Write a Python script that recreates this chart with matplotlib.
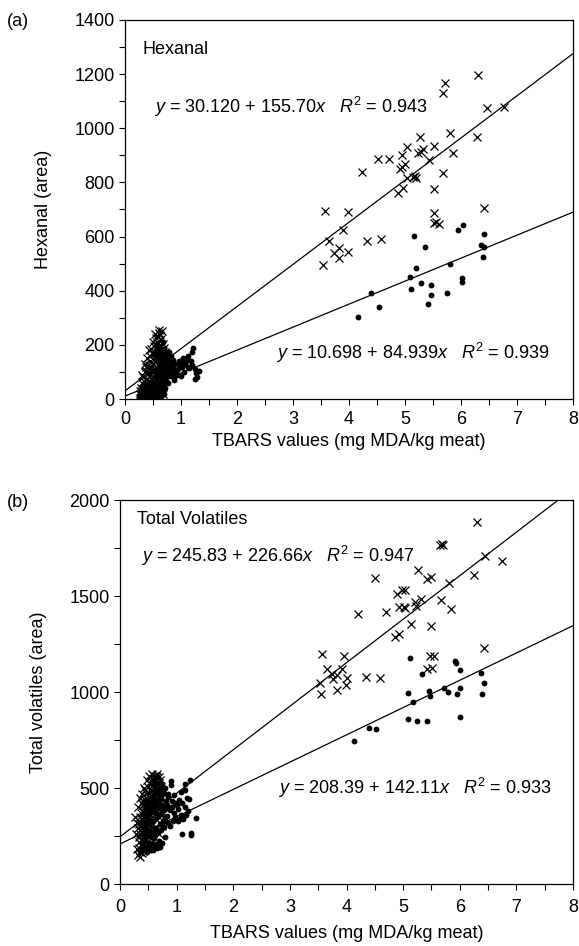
import numpy as np
import matplotlib
matplotlib.use("Agg")
import matplotlib.pyplot as plt
from matplotlib.ticker import MultipleLocator

plt.rcParams['font.family'] = ['Liberation Sans', 'DejaVu Sans']
plt.rcParams['mathtext.fontset'] = 'custom'
plt.rcParams['mathtext.rm'] = 'Liberation Sans'
plt.rcParams['mathtext.it'] = 'Liberation Sans:italic'

FS = 13

# ---- (a) hexanal vs TBARS ----
# crosses: high-TBARS group
hex_x_hi = [3.54, 3.58, 3.65, 3.74, 3.82, 3.83, 3.89, 3.98, 3.99, 4.23, 4.33, 4.51, 4.58, 4.71,
            4.87, 4.91, 4.94, 4.94, 4.96, 5.00, 5.03, 5.03, 5.15, 5.17, 5.19, 5.23, 5.26, 5.28,
            5.33, 5.43, 5.52, 5.52, 5.52, 5.52, 5.56, 5.60, 5.67, 5.71, 5.67, 5.81, 5.86, 6.29,
            6.31, 6.41, 6.47, 6.77]
hex_y_hi = [495, 696, 585, 538, 557, 520, 623, 691, 542, 837, 585, 885, 590, 885,
            762, 848, 901, 858, 778, 868, 815, 930, 819, 822, 816, 908, 969, 914,
            922, 883, 935, 775, 686, 650, 654, 648, 836, 1166, 1129, 981, 907, 969,
            1197, 704, 1074, 1080]
# crosses: low-TBARS group
hex_x_lo = [0.60, 0.66, 0.63, 0.43, 0.55, 0.58, 0.62, 0.70, 0.52, 0.48, 0.57, 0.65, 0.72, 0.40,
            0.45, 0.53, 0.60, 0.68, 0.75, 0.38, 0.47, 0.55, 0.63, 0.70, 0.35, 0.42, 0.50, 0.58,
            0.66, 0.33, 0.40, 0.48, 0.56, 0.62, 0.30, 0.37, 0.45, 0.52, 0.60, 0.28, 0.35, 0.42,
            0.50, 0.57, 0.65, 0.27, 0.33, 0.40, 0.47, 0.55, 0.62, 0.30, 0.38, 0.45, 0.52, 0.58,
            0.68, 0.72, 0.78, 0.50, 0.44, 0.59, 0.64, 0.54, 0.36, 0.31,
            0.50, 0.56, 0.61, 0.66, 0.70, 0.46, 0.51, 0.54, 0.59, 0.64, 0.69, 0.74, 0.43, 0.48,
            0.53, 0.61, 0.67, 0.73, 0.80, 0.38, 0.45, 0.52, 0.59, 0.64, 0.70, 0.34, 0.41, 0.49,
            0.55, 0.63, 0.26, 0.31, 0.38, 0.46, 0.53, 0.61, 0.67, 0.44, 0.36, 0.58, 0.57, 0.61,
            0.67, 0.71, 0.76]
hex_y_lo = [255, 250, 238, 180, 225, 210, 200, 190, 195, 170, 175, 170, 160, 150,
            140, 150, 145, 140, 135, 120, 115, 120, 118, 110, 100, 95, 98, 92,
            88, 80, 75, 70, 72, 65, 60, 55, 50, 48, 45, 40, 35, 30,
            28, 25, 30, 20, 15, 12, 10, 8, 12, 5, 3, 4, 2, 6,
            50, 80, 105, 130, 160, 185, 220, 240, 130, 90,
            210, 190, 175, 160, 150, 185, 165, 140, 130, 125, 120, 115, 125, 105,
            110, 100, 95, 95, 100, 105, 85, 85, 80, 75, 70, 65, 62, 58,
            60, 55, 30, 25, 40, 42, 38, 30, 20, 20, 18, 15, 232, 245,
            205, 175, 150]
# dots: high-TBARS group
hex_dx_hi = [5.16, 5.35, 5.94, 6.03, 6.41, 6.35, 6.41, 6.39, 5.81, 5.19, 5.09, 5.28, 5.10, 5.46,
             5.47, 5.75, 5.41, 6.02, 6.01, 4.39, 4.53, 4.16]
hex_dy_hi = [603, 560, 624, 644, 608, 569, 563, 526, 499, 483, 452, 427, 405, 421,
             385, 390, 352, 446, 433, 393, 339, 304]
# dots: low-TBARS group
hex_dx_lo = [0.25, 0.30, 0.35, 0.40, 0.45, 0.50, 0.55, 0.60, 0.65, 0.70, 0.28, 0.33, 0.38, 0.43,
             0.48, 0.53, 0.58, 0.63, 0.68, 0.30, 0.36, 0.42, 0.47, 0.52, 0.57, 0.62, 0.67, 0.72,
             0.55, 0.60, 0.65, 0.70, 0.75, 0.80, 0.85, 0.88, 0.90, 0.95, 0.98, 1.02, 1.05, 1.07,
             1.09, 1.11, 1.13, 1.15, 1.19, 1.19, 1.22, 1.25, 1.25, 1.27, 1.28, 1.32, 0.78, 0.82,
             0.72, 0.66, 0.62, 0.58, 0.68, 0.74, 0.87, 0.93, 1.00, 0.84, 0.76, 0.70, 0.64, 0.56,
             0.27, 0.32, 0.37, 0.42, 0.47, 0.52, 0.57, 0.62, 0.67, 0.72, 0.29, 0.34, 0.39, 0.44,
             0.50, 0.55, 0.60, 0.65, 0.71, 0.77, 0.81, 0.86, 0.91, 0.96, 1.01, 1.04, 1.12, 1.17,
             0.74, 0.69, 0.79, 0.85, 0.62, 0.58, 0.66, 0.60, 0.55, 0.64, 0.76, 0.82]
hex_dy_lo = [10, 5, 8, 3, 6, 2, 9, 4, 12, 20, 25, 30, 22, 28,
             35, 26, 32, 40, 45, 45, 50, 55, 48, 58, 52, 62, 70, 75,
             85, 100, 110, 120, 100, 115, 95, 70, 130, 110, 125, 140, 100, 130,
             140, 150, 160, 115, 125, 175, 190, 110, 75, 95, 80, 105, 140, 160,
             150, 175, 190, 205, 210, 130, 80, 90, 85, 120, 85, 60, 140, 160,
             5, 15, 12, 15, 18, 12, 20, 25, 30, 40, 35, 40, 35, 42,
             45, 40, 50, 55, 90, 95, 130, 110, 100, 140, 120, 150, 120, 140,
             165, 185, 175, 145, 160, 175, 125, 120, 105, 90, 60, 85]

# ---- (b) total volatiles vs TBARS ----
tv_x_hi = [6.74, 5.26, 4.51, 5.42, 5.49, 6.26, 5.81, 4.90, 4.98, 5.04, 4.21, 4.70, 4.92, 5.01,
           5.04, 5.23, 5.31, 5.21, 5.67, 5.84, 5.14, 5.49, 4.86, 4.92, 3.57, 3.95, 3.66, 3.92,
           3.53, 3.76, 3.83, 3.74, 3.55, 3.83, 4.00, 3.99, 4.35, 4.59, 5.48, 5.54, 5.42, 5.51,
           6.42, 6.30, 5.66, 5.68, 5.70, 6.45]
tv_y_hi = [1680, 1633, 1594, 1586, 1598, 1610, 1568, 1511, 1529, 1529, 1406, 1418, 1444, 1441,
           1436, 1449, 1484, 1467, 1479, 1432, 1354, 1345, 1284, 1302, 1197, 1188, 1119, 1119,
           1049, 1066, 1087, 1092, 988, 1009, 1075, 1035, 1080, 1072, 1188, 1188, 1119, 1127,
           1227, 1885, 1767, 1770, 1765, 1708]
tv_x_lo = [0.32, 0.35, 0.30, 0.38, 0.33, 0.41, 0.36, 0.44, 0.31, 0.39, 0.47, 0.34, 0.42, 0.50,
           0.37, 0.45, 0.53, 0.40, 0.48, 0.56, 0.43, 0.51, 0.59, 0.46, 0.54, 0.62, 0.50, 0.58,
           0.65, 0.55, 0.62, 0.68, 0.60, 0.65, 0.70, 0.72, 0.75, 0.66, 0.70, 0.62, 0.58, 0.64,
           0.55, 0.60, 0.52, 0.48, 0.45, 0.40, 0.36, 0.28, 0.27, 0.32, 0.35, 0.42, 0.47, 0.52,
           0.57, 0.63, 0.78, 0.80, 0.74, 0.68, 0.58, 0.50, 0.44, 0.40, 0.52,
           0.33, 0.37, 0.35, 0.33, 0.36, 0.39, 0.41, 0.43, 0.46, 0.49, 0.51, 0.53, 0.56, 0.57,
           0.60, 0.61, 0.64, 0.67, 0.69, 0.63, 0.57, 0.54, 0.49, 0.46, 0.44, 0.41, 0.38, 0.39,
           0.45, 0.50, 0.53, 0.58, 0.61, 0.66, 0.71, 0.73, 0.69, 0.72, 0.65, 0.59, 0.47, 0.38,
           0.34, 0.30]
tv_y_lo = [150, 165, 180, 200, 220, 240, 260, 275, 290, 305, 320, 330, 345, 355,
           370, 385, 395, 410, 420, 430, 445, 455, 465, 475, 485, 495, 505, 515,
           525, 535, 545, 555, 565, 575, 540, 510, 480, 450, 420, 400, 370, 340,
           310, 280, 250, 220, 190, 170, 140, 260, 350, 400, 450, 500, 540, 560,
           575, 560, 400, 340, 300, 260, 230, 195, 310, 380, 430,
           190, 230, 280, 310, 350, 340, 280, 255, 300, 270, 310, 330, 350, 400,
           420, 440, 470, 500, 525, 520, 490, 460, 440, 410, 400, 430, 420, 470,
           490, 480, 520, 545, 530, 555, 480, 450, 350, 380, 410, 310, 250, 160,
           245, 320]
tv_dx_hi = [5.12, 5.34, 5.92, 5.93, 6.01, 6.37, 6.42, 6.39, 6.01, 5.72, 5.79, 5.96, 5.45, 5.48,
            5.08, 5.18, 5.09, 5.25, 5.42, 6.01, 4.40, 4.52, 4.14]
tv_dy_hi = [1178, 1093, 1162, 1150, 1114, 1101, 1049, 992, 1023, 1019, 1000, 990, 1006, 979,
            997, 950, 861, 851, 851, 871, 814, 805, 744]
tv_dx_lo = [0.35, 0.42, 0.48, 0.55, 0.59, 0.65, 0.71, 0.38, 0.45, 0.52, 0.60, 0.68, 0.79, 0.40,
            0.47, 0.55, 0.63, 0.70, 0.78, 0.85, 0.43, 0.50, 0.58, 0.66, 0.73, 0.80, 0.88, 0.95,
            1.00, 1.03, 1.09, 1.14, 1.20, 1.25, 1.26, 1.34, 1.22, 0.95, 1.15, 1.15, 1.24, 0.90,
            0.90, 0.82, 0.75, 0.68, 0.62, 0.56, 0.50, 0.45, 0.72, 0.78, 0.85, 0.92, 1.05, 1.08,
            1.12, 0.98, 0.60, 0.66, 0.70, 0.55, 0.64, 0.86,
            0.37, 0.40, 0.44, 0.50, 0.53, 0.57, 0.62, 0.66, 0.74, 0.42, 0.48, 0.56, 0.61, 0.67,
            0.73, 0.76, 0.83, 0.92, 0.97, 1.02, 1.10, 1.17, 1.06, 0.94, 0.88, 0.84, 0.80, 0.75,
            0.70, 0.64, 0.58, 0.52, 0.47, 0.41, 0.46, 0.52, 0.58, 0.77, 0.83, 1.07, 1.18]
tv_dy_lo = [170, 180, 165, 175, 178, 190, 195, 210, 230, 215, 240, 225, 247, 260,
            280, 270, 290, 310, 295, 320, 320, 340, 330, 350, 365, 345, 387, 370,
            413, 326, 260, 400, 380, 256, 265, 343, 443, 465, 488, 523, 540, 517,
            535, 430, 410, 395, 420, 380, 400, 360, 450, 475, 455, 430, 440, 360,
            340, 350, 460, 480, 500, 440, 370, 395,
            185, 200, 195, 190, 200, 210, 200, 210, 215, 240, 250, 245, 265, 270,
            280, 330, 355, 400, 420, 390, 420, 360, 340, 330, 300, 470, 500, 520,
            470, 430, 400, 370, 330, 300, 390, 420, 450, 385, 410, 480, 450]

# fitted lines (intercept, slope) and R^2
fit_a = [(30.120, 155.70, 0.943), (10.698, 84.939, 0.939)]
fit_b = [(245.83, 226.66, 0.947), (208.39, 142.11, 0.933)]


def eq_text(a, b, r2, fmt_a, fmt_b):
    return (r'$y$ = ' + fmt_a.format(a) + ' + ' + fmt_b.format(b) + r'$x$' +
            r'   $R^2$ = ' + '{:.3f}'.format(r2))


def style_axes(ax, ymax, ystep, xpad, xlabelpad):
    ax.set_xlim(0, 8)
    ax.set_ylim(0, ymax)
    ax.xaxis.set_major_locator(MultipleLocator(1))
    ax.xaxis.set_minor_locator(MultipleLocator(0.5))
    ax.yaxis.set_major_locator(MultipleLocator(ystep))
    ax.yaxis.set_minor_locator(MultipleLocator(ystep / 2))
    ax.tick_params(which='both', direction='out', length=4, width=0.8,
                   labelsize=FS, top=False, right=False)
    ax.tick_params(axis='x', pad=xpad)
    for s in ax.spines.values():
        s.set_linewidth(0.9)
    ax.set_xlabel('TBARS values (mg MDA/kg meat)', fontsize=FS, labelpad=xlabelpad)


def draw(ax, xs_hi, ys_hi, xs_lo, ys_lo, dx_hi, dy_hi, dx_lo, dy_lo, fits):
    ax.plot(xs_lo + xs_hi, ys_lo + ys_hi, 'x', color='black', ms=5.5, mew=0.9)
    ax.plot(dx_lo + dx_hi, dy_lo + dy_hi, 'o', color='black', ms=4.2, mew=0)
    xx = np.array([0, 8])
    for a, b, r2 in fits:
        ax.plot(xx, a + b * xx, color='black', lw=0.9)


fig = plt.figure(figsize=(5.79, 9.46), dpi=100)

ax1 = fig.add_axes([125 / 579, 1 - 399 / 946, 448 / 579, 379 / 946])
draw(ax1, hex_x_hi, hex_y_hi, hex_x_lo, hex_y_lo, hex_dx_hi, hex_dy_hi, hex_dx_lo, hex_dy_lo, fit_a)
style_axes(ax1, 1400, 200, 5, 3)
ax1.set_ylabel('Hexanal (area)', fontsize=FS, labelpad=16)
ax1.text(0.038, 0.923, 'Hexanal', transform=ax1.transAxes, fontsize=FS, va='center')
ax1.text(0.676, 0.770, eq_text(*fit_a[0], '{:.3f}', '{:.2f}'), transform=ax1.transAxes,
         fontsize=FS, ha='right', va='center')
ax1.text(0.949, 0.121, eq_text(*fit_a[1], '{:.3f}', '{:.3f}'), transform=ax1.transAxes,
         fontsize=FS, ha='right', va='center')
fig.text(0.012, 1 - 22 / 946, '(a)', fontsize=FS, va='center')

ax2 = fig.add_axes([120 / 579, 1 - 884 / 946, 453 / 579, 384 / 946])
draw(ax2, tv_x_hi, tv_y_hi, tv_x_lo, tv_y_lo, tv_dx_hi, tv_dy_hi, tv_dx_lo, tv_dy_lo, fit_b)
style_axes(ax2, 2000, 500, 7, 6)
ax2.set_ylabel('Total volatiles (area)', fontsize=FS, labelpad=16)
ax2.text(0.038, 0.95, 'Total Volatiles', transform=ax2.transAxes, fontsize=FS, va='center')
ax2.text(0.651, 0.855, eq_text(*fit_b[0], '{:.2f}', '{:.2f}'), transform=ax2.transAxes,
         fontsize=FS, ha='right', va='center')
ax2.text(0.954, 0.25, eq_text(*fit_b[1], '{:.2f}', '{:.2f}'), transform=ax2.transAxes,
         fontsize=FS, ha='right', va='center')
fig.text(0.012, 1 - 502 / 946, '(b)', fontsize=FS, va='center')

fig.savefig('out.png', dpi=100)
